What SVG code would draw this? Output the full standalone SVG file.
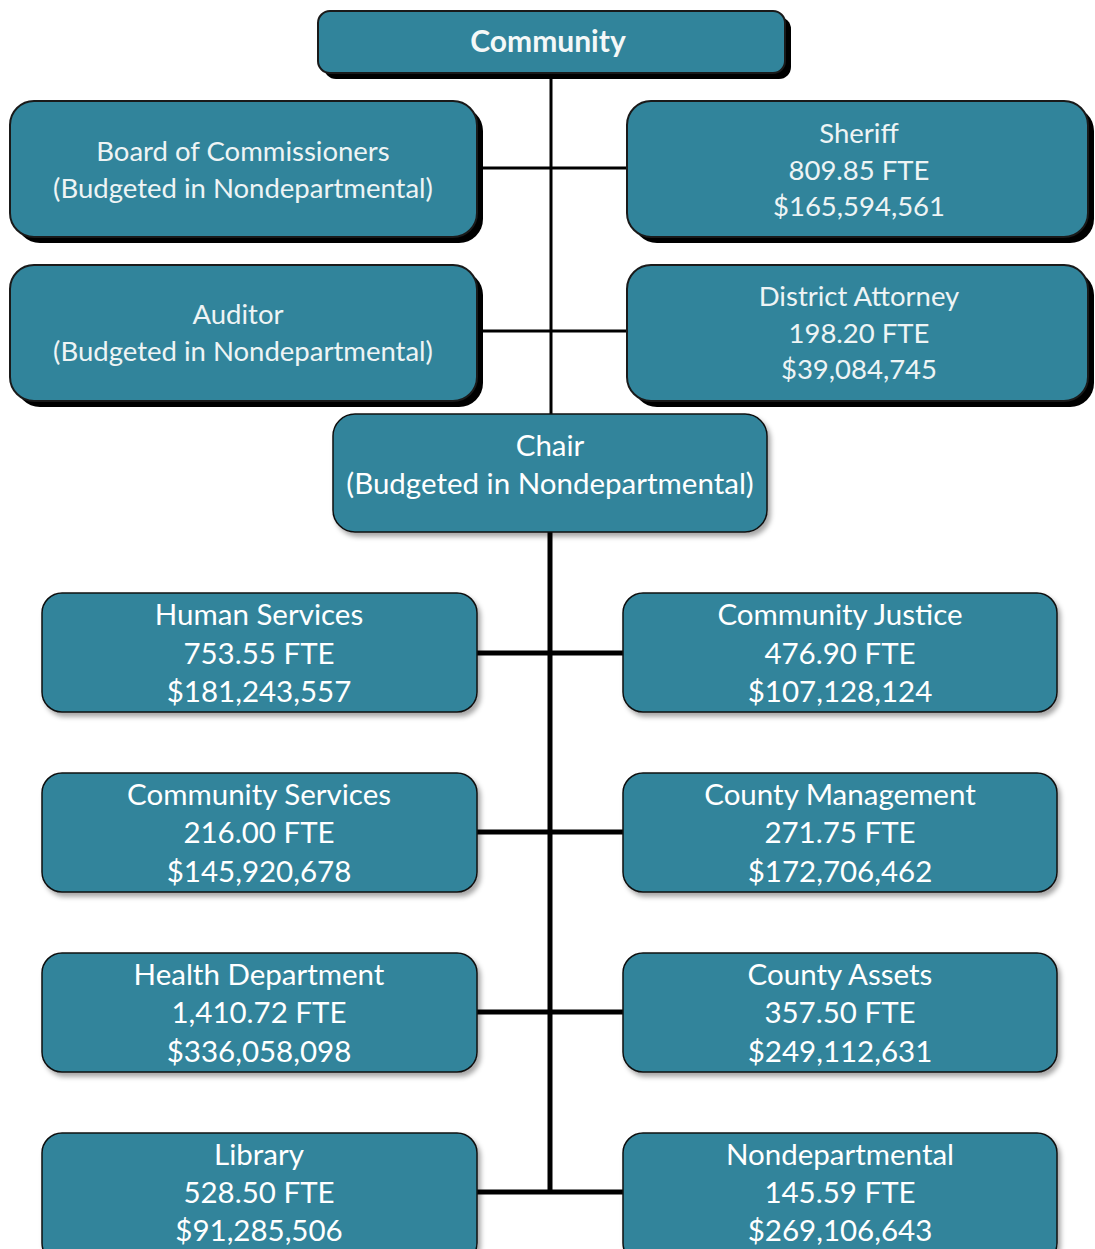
<svg xmlns="http://www.w3.org/2000/svg" width="1095" height="1249" viewBox="0 0 1095 1249">
<defs>
<filter id="soft" x="-10%" y="-10%" width="120%" height="130%">
<feDropShadow dx="3" dy="4" stdDeviation="2.5" flood-color="#000" flood-opacity="0.35"/>
</filter>
</defs>
<style>
.top{fill:#31849b;stroke:#1a1a1a;stroke-width:2}
.hs{fill:#000}
.box{fill:#31849b;stroke:#111;stroke-width:1.5;filter:url(#soft)}
.t1{font-family:Lato,"Open Sans",sans-serif;font-size:27.5px;fill:#eef4f5;text-anchor:middle}
.t2{font-family:Lato,"Open Sans",sans-serif;font-size:29.5px;fill:#fff;text-anchor:middle}
.tb{font-family:Lato,"Open Sans",sans-serif;font-size:30px;font-weight:bold;fill:#f4f8f8;text-anchor:middle}
.thin{stroke:#000;stroke-width:3;fill:none}
.thick{stroke:#000;stroke-width:5;fill:none}
</style>
<rect width="1095" height="1249" fill="#fff"/>
<g id="connectors">
<line class="thin" x1="551" y1="73" x2="551" y2="414"/>
<line class="thin" x1="480" y1="168" x2="628" y2="168"/>
<line class="thin" x1="480" y1="331" x2="628" y2="331"/>
<line class="thick" x1="550" y1="532" x2="550" y2="1194"/>
<line class="thick" x1="477" y1="653" x2="623" y2="653"/>
<line class="thick" x1="477" y1="832" x2="623" y2="832"/>
<line class="thick" x1="477" y1="1012" x2="623" y2="1012"/>
<line class="thick" x1="477" y1="1192" x2="623" y2="1192"/>
</g>
<g id="community">
<rect class="hs" x="324" y="17" width="467" height="62" rx="12"/>
<rect class="top" x="318" y="11" width="467" height="62" rx="12"/>
<text class="tb" x="548" y="52">Community</text>
</g>
<g id="board">
<rect class="hs" x="16" y="107" width="467" height="136" rx="24"/>
<rect class="top" x="10" y="101" width="467" height="136" rx="24"/>
<text class="t1" x="243" y="161">Board of Commissioners</text>
<text class="t1" x="243" y="198">(Budgeted in Nondepartmental)</text>
</g>
<g id="sheriff">
<rect class="hs" x="633" y="107" width="461" height="136" rx="24"/>
<rect class="top" x="627" y="101" width="461" height="136" rx="24"/>
<text class="t1" x="859" y="143">Sheriff</text>
<text class="t1" x="859" y="180">809.85 FTE</text>
<text class="t1" x="859" y="216">$165,594,561</text>
</g>
<g id="auditor">
<rect class="hs" x="16" y="271" width="467" height="136" rx="24"/>
<rect class="top" x="10" y="265" width="467" height="136" rx="24"/>
<text class="t1" x="238" y="324">Auditor</text>
<text class="t1" x="243" y="361">(Budgeted in Nondepartmental)</text>
</g>
<g id="da">
<rect class="hs" x="633" y="271" width="461" height="136" rx="24"/>
<rect class="top" x="627" y="265" width="461" height="136" rx="24"/>
<text class="t1" x="859" y="306">District Attorney</text>
<text class="t1" x="859" y="343">198.20 FTE</text>
<text class="t1" x="859" y="379">$39,084,745</text>
</g>
<g id="chair">
<rect class="box" x="333" y="414" width="434" height="118" rx="22"/>
<text class="t2" x="550" y="456">Chair</text>
<text class="t2" x="550" y="494">(Budgeted in Nondepartmental)</text>
</g>
<g id="human-services">
<rect class="box" x="42" y="593" width="435" height="119" rx="20"/>
<text class="t2" x="259" y="625">Human Services</text>
<text class="t2" x="259" y="664">753.55 FTE</text>
<text class="t2" x="259" y="702">$181,243,557</text>
</g>
<g id="community-justice">
<rect class="box" x="623" y="593" width="434" height="119" rx="20"/>
<text class="t2" x="840" y="625">Community Justice</text>
<text class="t2" x="840" y="664">476.90 FTE</text>
<text class="t2" x="840" y="702">$107,128,124</text>
</g>
<g id="community-services">
<rect class="box" x="42" y="773" width="435" height="119" rx="20"/>
<text class="t2" x="259" y="805">Community Services</text>
<text class="t2" x="259" y="843">216.00 FTE</text>
<text class="t2" x="259" y="882">$145,920,678</text>
</g>
<g id="county-management">
<rect class="box" x="623" y="773" width="434" height="119" rx="20"/>
<text class="t2" x="840" y="805">County Management</text>
<text class="t2" x="840" y="843">271.75 FTE</text>
<text class="t2" x="840" y="882">$172,706,462</text>
</g>
<g id="health-department">
<rect class="box" x="42" y="953" width="435" height="119" rx="20"/>
<text class="t2" x="259" y="985">Health Department</text>
<text class="t2" x="259" y="1023">1,410.72 FTE</text>
<text class="t2" x="259" y="1062">$336,058,098</text>
</g>
<g id="county-assets">
<rect class="box" x="623" y="953" width="434" height="119" rx="20"/>
<text class="t2" x="840" y="985">County Assets</text>
<text class="t2" x="840" y="1023">357.50 FTE</text>
<text class="t2" x="840" y="1062">$249,112,631</text>
</g>
<g id="library">
<rect class="box" x="42" y="1133" width="435" height="130" rx="20"/>
<text class="t2" x="259" y="1165">Library</text>
<text class="t2" x="259" y="1203">528.50 FTE</text>
<text class="t2" x="259" y="1241">$91,285,506</text>
</g>
<g id="nondepartmental">
<rect class="box" x="623" y="1133" width="434" height="130" rx="20"/>
<text class="t2" x="840" y="1165">Nondepartmental</text>
<text class="t2" x="840" y="1203">145.59 FTE</text>
<text class="t2" x="840" y="1241">$269,106,643</text>
</g>
</svg>
